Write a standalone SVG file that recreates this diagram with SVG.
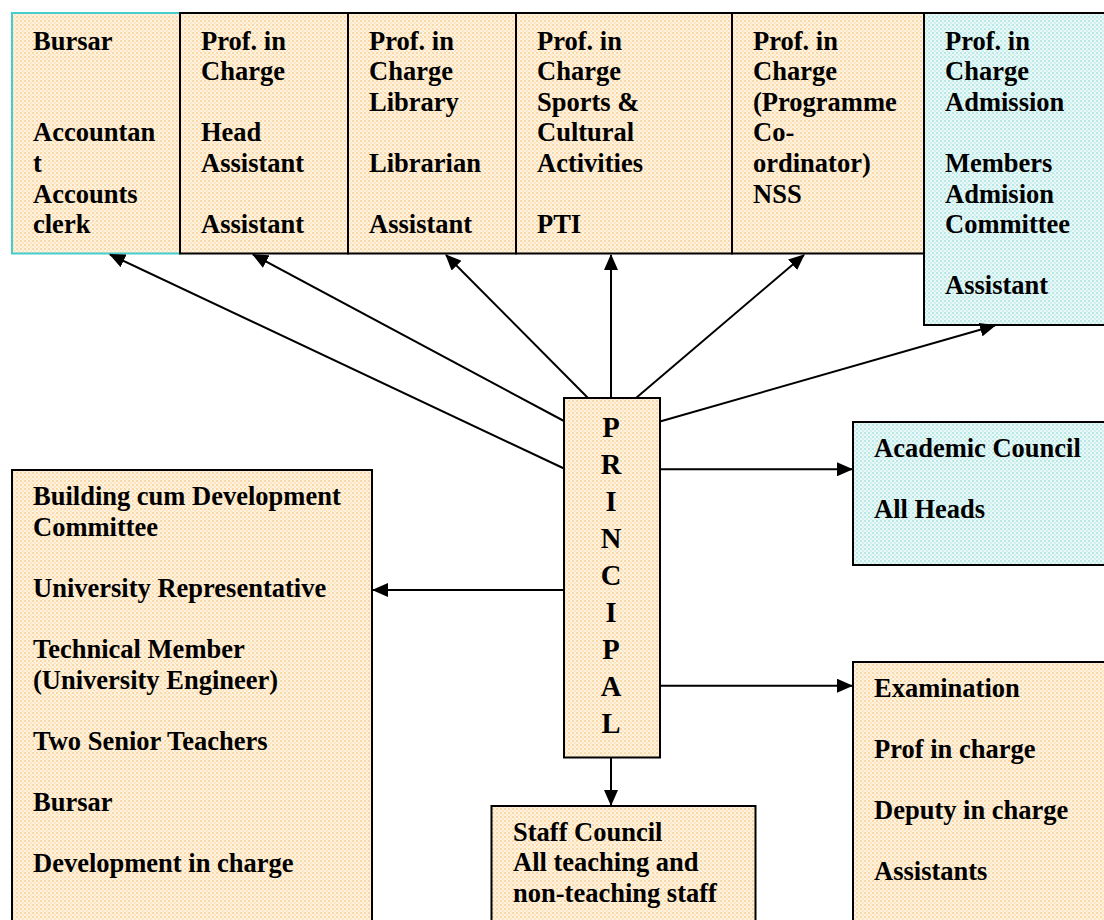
<svg xmlns="http://www.w3.org/2000/svg" width="1104" height="920" viewBox="0 0 1104 920">
<defs>
<pattern id="po" width="4" height="4" patternUnits="userSpaceOnUse">
<rect width="4" height="4" fill="#FEF2E0"/>
<rect x="0" y="0" width="2" height="2" fill="#F9D9A8"/>
<rect x="2" y="2" width="2" height="2" fill="#FCE6C4"/>
</pattern>
<pattern id="pc" width="4" height="4" patternUnits="userSpaceOnUse">
<rect width="4" height="4" fill="#EAF9F8"/>
<rect x="0" y="0" width="2" height="2" fill="#B8E9E7"/>
<rect x="2" y="2" width="2" height="2" fill="#D0F0EF"/>
</pattern>
<marker id="ah" viewBox="0 0 16 14" refX="15" refY="7" markerWidth="16" markerHeight="14" markerUnits="userSpaceOnUse" orient="auto">
<path d="M0,0 L16,7 L0,14 Z" fill="#000"/>
</marker>
</defs>
<style>
.o{fill:url(#po);stroke:#000;stroke-width:2}
.c{fill:url(#pc);stroke:#000;stroke-width:2}
.t{font-family:"Liberation Serif","Times New Roman",serif;font-weight:bold;font-size:26.5px;fill:#000}
.p{font-family:"Liberation Serif","Times New Roman",serif;font-weight:bold;font-size:28.5px;fill:#000;text-anchor:middle}
.l{stroke:#000;stroke-width:2;fill:none;marker-end:url(#ah)}
</style>
<rect width="1104" height="920" fill="#fff"/>

<g id="bursar">
<rect x="12" y="13" width="168" height="240.5" fill="url(#po)" stroke="#45CCCC" stroke-width="2"/>
<text class="t"><tspan x="33" y="49.5">Bursar</tspan><tspan x="33" y="141.3">Accountan</tspan><tspan x="33" y="171.9">t</tspan><tspan x="33" y="202.5">Accounts</tspan><tspan x="33" y="233.1">clerk</tspan></text>
</g>
<g id="office">
<rect class="o" x="180" y="13" width="168" height="240.5"/>
<text class="t"><tspan x="201" y="49.5">Prof. in</tspan><tspan x="201" y="80.1">Charge</tspan><tspan x="201" y="141.3">Head</tspan><tspan x="201" y="171.9">Assistant</tspan><tspan x="201" y="233.1">Assistant</tspan></text>
</g>
<g id="library">
<rect class="o" x="348" y="13" width="168" height="240.5"/>
<text class="t"><tspan x="369" y="49.5">Prof. in</tspan><tspan x="369" y="80.1">Charge</tspan><tspan x="369" y="110.7">Library</tspan><tspan x="369" y="171.9">Librarian</tspan><tspan x="369" y="233.1">Assistant</tspan></text>
</g>
<g id="sports">
<rect class="o" x="516" y="13" width="216" height="240.5"/>
<text class="t"><tspan x="537" y="49.5">Prof. in</tspan><tspan x="537" y="80.1">Charge</tspan><tspan x="537" y="110.7">Sports &amp;</tspan><tspan x="537" y="141.3">Cultural</tspan><tspan x="537" y="171.9">Activities</tspan><tspan x="537" y="233.1">PTI</tspan></text>
</g>
<g id="nss">
<rect class="o" x="732" y="13" width="192" height="240.5"/>
<text class="t"><tspan x="753" y="49.5">Prof. in</tspan><tspan x="753" y="80.1">Charge</tspan><tspan x="753" y="110.7">(Programme</tspan><tspan x="753" y="141.3">Co-</tspan><tspan x="753" y="171.9">ordinator)</tspan><tspan x="753" y="202.5">NSS</tspan></text>
</g>
<g id="admission">
<rect class="c" x="924" y="13" width="190" height="312"/>
<text class="t"><tspan x="945" y="49.5">Prof. in</tspan><tspan x="945" y="80.1">Charge</tspan><tspan x="945" y="110.7">Admission</tspan><tspan x="945" y="171.9">Members</tspan><tspan x="945" y="202.5">Admision</tspan><tspan x="945" y="233.1">Committee</tspan><tspan x="945" y="294.3">Assistant</tspan></text>
</g>

<g id="principal">
<rect class="o" x="564" y="398" width="96" height="359.5"/>
<text class="p"><tspan x="611" y="437">P</tspan><tspan x="611" y="474">R</tspan><tspan x="611" y="511">I</tspan><tspan x="611" y="548">N</tspan><tspan x="611" y="585">C</tspan><tspan x="611" y="622">I</tspan><tspan x="611" y="659">P</tspan><tspan x="611" y="696">A</tspan><tspan x="611" y="733">L</tspan></text>
</g>

<g id="academic">
<rect class="c" x="853" y="422" width="260" height="143"/>
<text class="t"><tspan x="874" y="456.7">Academic Council</tspan><tspan x="874" y="518.3">All Heads</tspan></text>
</g>
<g id="examination">
<rect class="o" x="853" y="662" width="260" height="270"/>
<text class="t"><tspan x="874" y="696.7">Examination</tspan><tspan x="874" y="757.9">Prof in charge</tspan><tspan x="874" y="819.1">Deputy in charge</tspan><tspan x="874" y="880.3">Assistants</tspan></text>
</g>
<g id="building">
<rect class="o" x="12" y="470" width="360" height="462"/>
<text class="t"><tspan x="33" y="505">Building cum Development</tspan><tspan x="33" y="535.6">Committee</tspan><tspan x="33" y="596.8">University Representative</tspan><tspan x="33" y="658">Technical Member</tspan><tspan x="33" y="688.6">(University Engineer)</tspan><tspan x="33" y="749.8">Two Senior Teachers</tspan><tspan x="33" y="811">Bursar</tspan><tspan x="33" y="872.2">Development in charge</tspan></text>
</g>
<g id="staff">
<rect class="o" x="491.5" y="806" width="264" height="130"/>
<text class="t"><tspan x="513" y="840.7">Staff Council</tspan><tspan x="513" y="870.7">All teaching and</tspan><tspan x="513" y="901.7">non-teaching staff</tspan></text>
</g>

<g id="connectors">
<line class="l" x1="564" y1="468.5" x2="110" y2="254.5"/>
<line class="l" x1="564" y1="421" x2="253" y2="254.5"/>
<line class="l" x1="588" y1="398" x2="446" y2="255"/>
<line class="l" x1="611" y1="398" x2="611" y2="255"/>
<line class="l" x1="636" y1="398" x2="804" y2="255"/>
<line class="l" x1="660" y1="421.5" x2="995" y2="325.5"/>
<line class="l" x1="660" y1="469.3" x2="852" y2="469.3"/>
<line class="l" x1="564" y1="590" x2="373" y2="590"/>
<line class="l" x1="660" y1="685.7" x2="852" y2="685.7"/>
<line class="l" x1="611" y1="757.5" x2="611" y2="805"/>
</g>
</svg>
